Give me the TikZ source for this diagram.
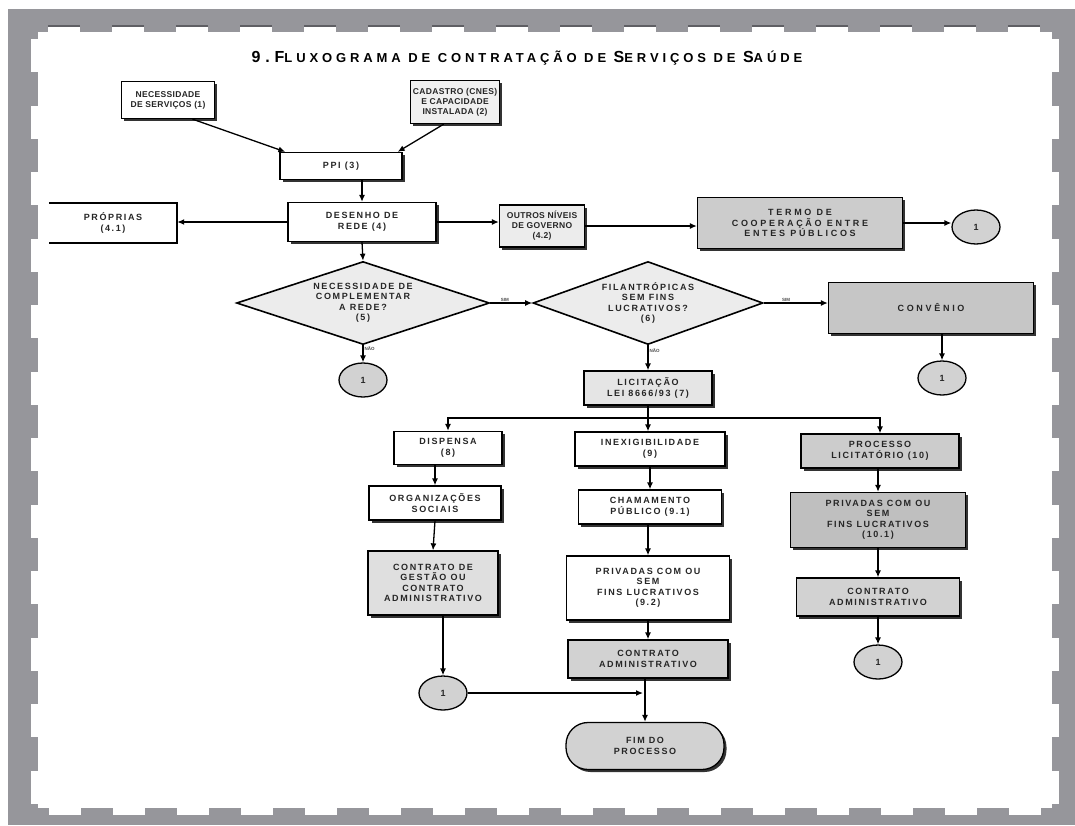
\documentclass[tikz,border=0pt]{standalone}
\usepackage{fontspec}
\setmainfont{Liberation Sans}
\newfontfamily\boxfont[LetterSpace=18]{Liberation Sans}
\newfontfamily\tightfont[LetterSpace=4]{Liberation Sans}
\newfontfamily\widefont[LetterSpace=30]{Liberation Sans}
\newfontfamily\titlefont[LetterSpace=30]{Liberation Sans}
\usetikzlibrary{shapes.geometric,arrows.meta,shadows}
\definecolor{framegray}{RGB}{150,150,155}
\definecolor{dashgray}{RGB}{95,95,100}
\begin{document}
\begin{tikzpicture}[x=1pt,y=-1pt,
  lbl/.style={font=\boxfont\fontsize{9}{10.5}\selectfont\bfseries, align=center, text=black!85},
  tight/.style={font=\tightfont\fontsize{8.5}{10}\selectfont\bfseries},
  wide/.style={font=\widefont\fontsize{9}{10.5}\selectfont\bfseries},
  box/.style={lbl, draw, line width=1.3pt, inner sep=1pt, fill=white,
    drop shadow={shadow xshift=2.5pt, shadow yshift=-2.5pt, opacity=1, fill=black!80}},
  dia/.style={lbl, diamond, draw, line width=1.6pt, fill=gray!15, shape aspect=3, inner sep=0pt},
  conn/.style={lbl, ellipse, draw, line width=1.3pt, fill=gray!35, minimum width=48pt, minimum height=34pt, inner sep=0pt},
  arr/.style={line width=1.3pt, -{Latex[length=7pt,width=6pt]}},
  tag/.style={font=\fontsize{4.5}{5}\selectfont\bfseries, text=black!70, inner sep=1pt}
]
\useasboundingbox (0,0) rectangle (1075,825);
% stamp-like frame
\fill[framegray] (8,9) rectangle (1075,825);
\fill[white] (38,32) rectangle (1052,808);
\foreach \k in {0,...,15}{
  \fill[white] (48+64*\k,26) rectangle (80+64*\k,32);
  \draw[dashgray, line width=1.5pt] (48+64*\k,26) -- (80+64*\k,26);
  \fill[white] (49+64*\k,808) rectangle (81+64*\k,815);
}
\foreach \k in {0,...,11}{
  \fill[white] (31,39+66.5*\k) rectangle (38,72+66.5*\k);
  \fill[white] (1052,39+66.5*\k) rectangle (1059,72+66.5*\k);
}
% title
\node (title) at (527,58) {\titlefont\bfseries\fontsize{16}{18}\selectfont 9.F\fontsize{13}{15}\selectfont LUXOGRAMA DE CONTRATAÇÃO DE \fontsize{16}{18}\selectfont S\fontsize{13}{15}\selectfont ERVIÇOS DE \fontsize{16}{18}\selectfont S\fontsize{13}{15}\selectfont AÚDE};
% nodes
\node[box, tight, minimum width=93pt, minimum height=37pt] (nec) at (168,100) {NECESSIDADE\\DE SERVIÇOS (1)};
\node[box, tight, fill=gray!12, minimum width=89pt, minimum height=43pt] (cad) at (455,102) {CADASTRO (CNES)\\E CAPACIDADE\\INSTALADA (2)};
\node[box, minimum width=122pt, minimum height=27pt] (ppi) at (341,166) {PPI (3)};
\node[box, minimum width=148pt, minimum height=39pt] (des) at (362,222) {DESENHO DE\\REDE (4)};
\node[lbl, minimum width=128pt, minimum height=40pt] (pro) at (113,223) {PRÓPRIAS\\(4.1)};
\node[box, tight, fill=gray!15, minimum width=85pt, minimum height=42pt] (out) at (542,226) {OUTROS NÍVEIS\\DE GOVERNO\\(4.2)};
\node[box, wide, fill=gray!40, minimum width=205pt, minimum height=51pt] (ter) at (800,223) {TERMO DE\\COOPERAÇÃO ENTRE\\ENTES PÚBLICOS};
\node[conn] (c1) at (976,227) {1};
\node[dia, minimum width=253pt, minimum height=83pt] (d1) at (363,303) {NECESSIDADE DE\\COMPLEMENTAR\\A REDE?\\(5)};
\node[dia, minimum width=230pt, minimum height=83pt] (d2) at (648,303) {FILANTRÓPICAS\\SEM FINS\\LUCRATIVOS?\\(6)};
\node[box, wide, fill=gray!45, minimum width=205pt, minimum height=51pt] (conv) at (931,308) {CONVÊNIO};
\node[conn] (c2) at (942,378) {1};
\node[conn] (c3) at (363,380) {1};
\node[box, fill=gray!20, minimum width=128pt, minimum height=34pt] (lic) at (648,388) {LICITAÇÃO\\LEI 8666/93 (7)};
\coordinate (bar) at (648,418);
\node[box, minimum width=108pt, minimum height=33pt] (disp) at (448,448) {DISPENSA\\(8)};
\node[box, minimum width=150pt, minimum height=34pt] (inex) at (650,449) {INEXIGIBILIDADE\\(9)};
\node[box, fill=gray!40, minimum width=158pt, minimum height=34pt] (proc) at (880,451) {PROCESSO\\LICITATÓRIO (10)};
\node[box, minimum width=132pt, minimum height=34pt] (org) at (435,503) {ORGANIZAÇÕES\\SOCIAIS};
\node[box, minimum width=143pt, minimum height=34pt] (cham) at (650,507) {CHAMAMENTO\\PÚBLICO (9.1)};
\node[box, fill=gray!50, minimum width=175pt, minimum height=55pt] (p101) at (878,520) {PRIVADAS COM OU\\SEM\\FINS LUCRATIVOS\\(10.1)};
\node[box, fill=gray!25, minimum width=130pt, minimum height=64pt] (cg) at (433,583) {CONTRATO DE\\GESTÃO OU\\CONTRATO\\ADMINISTRATIVO};
\node[box, minimum width=163pt, minimum height=64pt] (p92) at (648,588) {PRIVADAS COM OU\\SEM\\FINS LUCRATIVOS\\(9.2)};
\node[box, fill=gray!35, minimum width=163pt, minimum height=38pt] (ca2) at (878,597) {CONTRATO\\ADMINISTRATIVO};
\node[conn] (c4) at (878,662) {1};
\node[box, fill=gray!35, minimum width=160pt, minimum height=38pt] (ca1) at (648,659) {CONTRATO\\ADMINISTRATIVO};
\node[conn] (c5) at (443,693) {1};
\coordinate (join) at (643,693);
\node[box, fill=gray!35, rounded corners=22pt, minimum width=158pt, minimum height=47pt] (fim) at (645,746) {FIM DO\\PROCESSO};
% PRÓPRIAS open box
\draw[line width=2pt] (pro.north west) -- (pro.north east) -- (pro.south east) -- (pro.south west);
% connectors
\draw[arr] (nec.-38) -- ([xshift=6pt]ppi.north west);
\draw[arr] (cad.243) -- ([xshift=-5pt]ppi.north east);
\draw[arr] (des.north |- ppi.south) -- (des.north);
\draw[arr] (des.west) -- (pro.east |- des.west);
\draw[arr] (des.east) -- (out.west |- des.east);
\draw[arr] (out.east) -- (ter.west |- out.east);
\draw[arr] (ter.east) -- (c1.west |- ter.east);
\draw[arr] (des.south) -- (d1.north);
\draw[arr] (d1.east) -- node[tag, above, pos=0.35] {SIM} (d2.west);
\draw[arr] (d1.south) -- node[tag, right, pos=0.2] {NÃO} (c3.north);
\draw[arr] (d2.east) -- node[tag, above, pos=0.35] {SIM} (conv.west |- d2.east);
\draw[arr] (d2.south) -- node[tag, right, pos=0.2] {NÃO} (lic.north);
\draw[arr] (c2 |- conv.south) -- (c2.north);
\draw[arr] (lic.south) -- (lic.south |- inex.north);
\draw[arr] (bar) -| (disp.north);
\draw[arr] (bar) -| (proc.north);
\draw[arr] (disp.south -| org.north) -- (org.north);
\draw[arr] (org.south) -- (cg.north);
\draw[arr] (c5 |- cg.south) -- (c5.north);
\draw[arr] (inex.south) -- (cham.north);
\draw[arr] (cham.south -| p92.north) -- (p92.north);
\draw[arr] (p92.south) -- (ca1.north);
\draw[arr] (ca1.south -| fim.north) -- (fim.north);
\draw[arr] (c5.east) -- (join);
\draw[arr] (proc.south -| p101.north) -- (p101.north);
\draw[arr] (p101.south) -- (ca2.north);
\draw[arr] (ca2.south) -- (c4.north);
\end{tikzpicture}
\end{document}
